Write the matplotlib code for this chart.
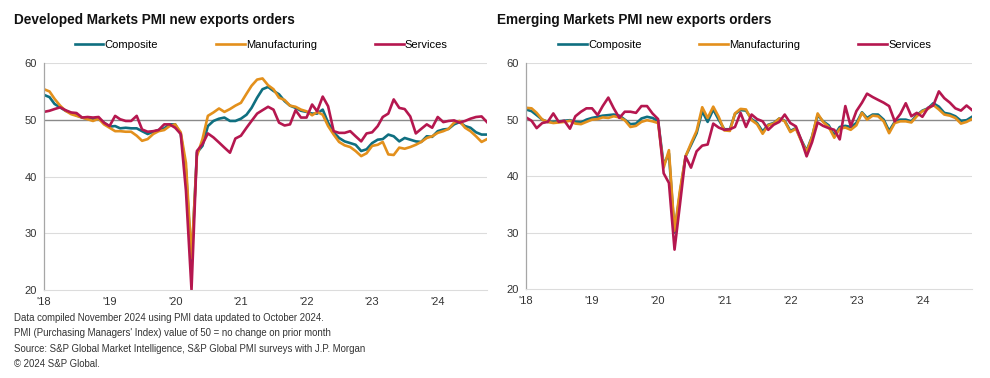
import matplotlib
matplotlib.use("Agg")
import matplotlib.pyplot as plt
import pandas as pd

plt.rcParams['font.family'] = ['Liberation Sans', 'DejaVu Sans']

# ---------------------------------------------------------------
# Data (monthly, Jan 2018 - Oct 2024)
# ---------------------------------------------------------------
months = pd.date_range("2018-01-01", periods=82, freq="MS")

dm_composite = [
    54.4, 54.0, 52.8, 52.2, 51.6, 51.2, 50.8, 50.4, 50.2, 50.1, 50.2, 49.5,
    48.8, 48.9, 48.5, 48.6, 48.5, 48.5, 48.0, 47.5, 47.9, 48.2, 48.5, 49.2,
    49.2, 47.5, 41.2, 24.7, 44.2, 45.4, 48.9, 49.8, 50.2, 50.4, 49.8, 49.8,
    50.2, 50.9, 52.1, 53.9, 55.4, 55.8, 55.1, 54.5, 53.3, 52.5, 52.1, 51.6,
    51.4, 51.1, 51.1, 51.8, 49.5, 47.8, 46.8, 46.2, 45.9, 45.6, 44.5, 44.8,
    45.9, 46.5, 46.6, 47.4, 47.1, 46.2, 46.8, 46.5, 46.2, 46.1, 47.1, 47.0,
    48.0, 48.3, 48.4, 49.2, 49.6, 48.9, 48.6, 47.8, 47.4, 47.4,
]
dm_manufacturing = [
    55.4, 55.0, 53.7, 52.5, 51.6, 51.0, 50.7, 50.4, 50.1, 49.8, 50.2, 49.2,
    48.6, 48.0, 48.0, 47.9, 47.9, 47.2, 46.3, 46.6, 47.5, 48.0, 48.2, 48.9,
    49.2, 47.8, 42.4, 25.6, 43.6, 46.6, 50.7, 51.3, 52.0, 51.4, 51.9, 52.5,
    53.0, 54.6, 56.0, 57.1, 57.3, 56.1, 55.4, 53.9, 53.5, 52.5, 52.3, 51.8,
    51.5, 50.8, 51.4, 50.9, 48.9, 47.4, 46.1, 45.5, 45.2, 44.5, 43.6, 44.1,
    45.4, 45.6, 46.1, 43.9, 43.8, 45.1, 44.9, 45.2, 45.6, 46.1, 46.8, 47.1,
    47.7, 48.0, 48.4, 49.5, 49.8, 48.6, 48.0, 47.1, 46.1, 46.6,
]
dm_services = [
    51.4, 51.6, 51.9, 52.2, 51.7, 51.3, 51.2, 50.4, 50.5, 50.4, 50.5, 49.5,
    48.9, 50.7, 50.1, 49.8, 49.8, 50.7, 48.3, 47.9, 48.0, 48.2, 49.2, 49.2,
    48.6, 47.5, 37.5, 20.0, 44.5, 45.7, 47.6, 46.9, 46.0, 45.1, 44.2, 46.7,
    47.2, 48.6, 49.8, 51.1, 51.7, 52.3, 51.8, 49.5, 49.0, 49.2, 51.7, 50.4,
    50.4, 52.7, 51.5, 54.1, 52.4, 48.0, 47.7, 47.7, 48.0, 47.1, 46.2, 47.6,
    47.8, 48.9, 50.5, 51.1, 53.6, 52.1, 51.9, 50.6, 47.6, 48.4, 49.2, 48.6,
    50.5, 49.6, 49.8, 49.9, 49.5, 49.8, 50.2, 50.5, 50.6, 49.6,
]

em_composite = [
    51.8, 51.5, 50.8, 50.0, 49.6, 49.6, 49.7, 49.8, 49.9, 49.6, 49.5, 50.0,
    50.3, 50.5, 50.7, 50.8, 50.9, 50.7, 50.0, 49.2, 49.3, 50.2, 50.5, 50.3,
    49.8, 42.0, 44.0, 30.0, 37.0, 43.5, 45.5, 47.6, 51.5, 49.6, 51.8, 50.0,
    48.3, 48.3, 51.0, 51.7, 51.6, 50.1, 49.4, 47.9, 49.1, 49.4, 50.2, 49.8,
    48.0, 48.5, 46.5, 44.5, 47.0, 50.8, 49.7, 49.0, 47.2, 48.7, 48.9, 48.7,
    49.4, 51.3, 50.3, 50.9, 50.9, 50.0, 48.0, 49.6, 50.0, 50.0, 49.7, 50.8,
    51.6, 52.0, 52.9, 52.3, 51.2, 51.0, 50.6, 49.8, 49.9, 50.5,
]
em_manufacturing = [
    52.1, 52.0, 51.2, 50.0, 49.6, 49.4, 49.5, 49.6, 49.8, 49.3, 49.2, 49.6,
    50.0, 50.1, 50.4, 50.3, 50.6, 50.4, 49.9, 48.7, 48.9, 49.6, 49.9, 49.7,
    49.4, 41.5, 44.6, 30.3, 37.5, 43.5, 45.8, 48.0, 52.2, 50.3, 52.3, 50.5,
    48.1, 48.0, 51.1, 51.9, 51.8, 49.9, 49.2, 47.5, 49.0, 49.3, 50.2, 49.7,
    47.8, 48.4, 46.3, 44.3, 46.9, 51.1, 49.6, 48.7, 46.8, 48.4, 48.6, 48.2,
    49.0, 51.2, 50.0, 50.7, 50.6, 49.7, 47.6, 49.4, 49.7, 49.7, 49.5, 50.6,
    51.5, 51.9, 52.6, 51.8, 50.9, 50.7, 50.3, 49.3, 49.6, 50.1,
]
em_services = [
    50.4, 49.8, 48.5, 49.4, 49.6, 51.1, 49.6, 49.8, 48.4, 50.6, 51.4, 52.0,
    52.0, 50.8, 52.4, 53.9, 52.0, 50.3, 51.4, 51.4, 51.2, 52.4, 52.4, 51.1,
    50.1, 40.5, 38.8, 27.0, 35.0, 43.5, 41.5, 44.4, 45.4, 45.6, 49.3, 48.6,
    48.2, 48.3, 48.7, 51.2, 48.7, 50.9, 50.1, 49.7, 48.2, 49.1, 49.6, 50.9,
    49.4, 48.8, 46.5, 43.5, 46.0, 49.5, 48.9, 48.5, 48.2, 46.5, 52.4, 48.8,
    51.5, 53.0, 54.6, 54.0, 53.5, 53.0, 52.4, 49.7, 51.0, 52.9, 50.6, 51.2,
    50.5, 52.1, 52.5, 55.0, 53.8, 53.0, 52.0, 51.6, 52.5, 51.7,
]

titles = ["Developed Markets PMI new exports orders",
          "Emerging Markets PMI new exports orders"]
series_names = ["Composite", "Manufacturing", "Services"]
colors = ["#0f6f80", "#e3901c", "#b5174f"]
year_labels = ["'18", "'19", "'20", "'21", "'22", "'23", "'24"]

footnotes = [
    "Data compiled November 2024 using PMI data updated to October 2024.",
    "PMI (Purchasing Managers' Index) value of 50 = no change on prior month",
    "Source: S&P Global Market Intelligence, S&P Global PMI surveys with J.P. Morgan",
    "\u00a9 2024 S&P Global.",
]

panels = [
    (dm_composite, dm_manufacturing, dm_services),
    (em_composite, em_manufacturing, em_services),
]

# ---------------------------------------------------------------
# Figure
# ---------------------------------------------------------------
fig = plt.figure(figsize=(9.9, 3.78), dpi=100)
ax_left = fig.add_axes([0.0444, 0.233, 0.4475, 0.6])
ax_right = fig.add_axes([0.5313, 0.235, 0.4505, 0.598])

for ax, data, title, tx in zip([ax_left, ax_right], panels, titles, [0.014, 0.502]):
    for vals, name, col in zip(data, series_names, colors):
        ax.plot(months, vals, color=col, lw=1.9, label=name, solid_joinstyle="round")

    ax.set_xlim(months[0], months[-1])
    ax.set_ylim(20, 60)
    ax.set_yticks([20, 30, 40, 50, 60])
    ax.set_xticks(pd.date_range("2018-01-01", periods=7, freq="YS"))
    ax.set_xticklabels(year_labels)
    ax.tick_params(axis="both", length=0, labelsize=8, colors="#333333", pad=5)

    # horizontal gridlines, 50 line darker
    for yv in [30, 40, 60]:
        ax.axhline(yv, color="#dcdcdc", lw=0.8, zorder=0)
    ax.axhline(50, color="#8a8a8a", lw=1.0, zorder=0.5)

    for side in ["top", "right"]:
        ax.spines[side].set_visible(False)
    ax.spines["left"].set_color("#a6a6a6")
    ax.spines["bottom"].set_color("#dcdcdc")
    ax.spines["left"].set_linewidth(0.9)

    fig.text(tx, 0.947, title, fontsize=9.8, fontweight="bold",
             ha="left", va="center", color="#111111")

    ax.legend(loc="center", bbox_to_anchor=(0.49, 1.08), ncol=3, frameon=False,
              fontsize=8, handlelength=2.6, handletextpad=0.1,
              columnspacing=5.2, borderaxespad=0)

for i, line in enumerate(footnotes):
    fig.text(0.014, 0.158 - i * 0.04, line, fontsize=6.9,
             ha="left", va="center", color="#333333")

fig.savefig("out.png", dpi=100)
